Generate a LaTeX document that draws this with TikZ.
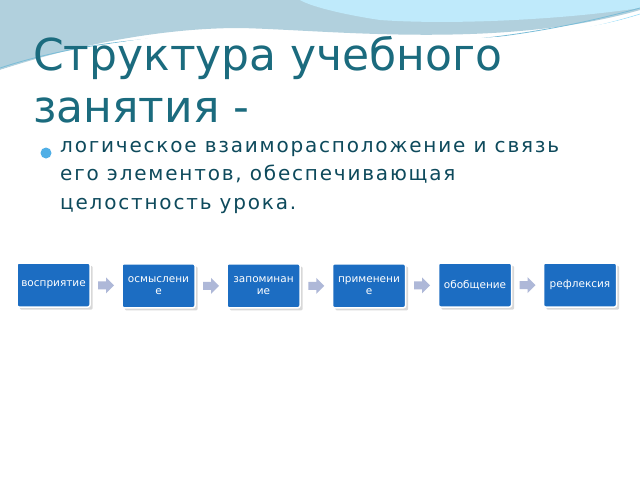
\documentclass[tikz,border=0pt]{standalone}
\usepackage{fontspec}
\setmainfont{DejaVu Sans}
\newfontfamily\bodyfont[LetterSpace=9]{DejaVu Sans}
\usetikzlibrary{shadows,calc}
\begin{document}
\begin{tikzpicture}[x=1pt,y=-1pt,
  box/.style={draw=white,line width=1.5pt,fill=boxblue,rounded corners=2pt,minimum width=73pt,minimum height=44pt,text=white,font=\fontsize{10.5}{12}\selectfont,align=center,inner sep=1pt,drop shadow={opacity=0.3}},
  arr/.style={fill=arrgrey,draw=none}]
\definecolor{boxblue}{HTML}{1C6DC2}
\definecolor{arrgrey}{HTML}{AEB8D8}
\definecolor{titlec}{HTML}{1B6B7E}
\definecolor{bodyc}{HTML}{0E4A5C}
\useasboundingbox (0,0) rectangle (640,480);
\fill[white] (0,0) rectangle (640,480);
% background waves
\fill[cyan!20!teal!35] (0,0) -- (640,0) -- (640,10) .. controls (500,50) and (330,30) .. (240,28) .. controls (150,28) and (60,50) .. (0,70) -- cycle;
\fill[cyan!25!white] (300,0) -- (640,0) -- (640,8) .. controls (560,20) and (450,25) .. (380,20) .. controls (340,14) and (310,6) .. (300,0) -- cycle;
\draw[cyan!50!teal!60,line width=0.8pt] (0,68) .. controls (100,35) and (220,30) .. (330,42) .. controls (450,50) and (560,30) .. (640,8);
\draw[cyan!40,line width=0.6pt] (0,72) .. controls (100,40) and (230,36) .. (340,46) .. controls (460,54) and (570,36) .. (640,14);
\fill[white] (0,70) .. controls (60,52) and (150,32) .. (240,32) .. controls (330,32) and (500,55) .. (640,15) -- (640,480) -- (0,480) -- cycle;
% title
\node[anchor=base west,text=titlec,font=\fontsize{44}{50}\selectfont,inner sep=0] (t1) at (33,70) {Структура учебного};
\node[anchor=base west,text=titlec,font=\fontsize{44}{50}\selectfont,inner sep=0] (t2) at (33,122) {занятия -};
% bullet
\fill[cyan!80!blue!70] (46,153) circle (5.5);
\node[anchor=north west,text=bodyc,font=\bodyfont\fontsize{20}{28.5}\selectfont,align=left,inner sep=0] (b) at (60,141)
 {логическое взаиморасположение и связь\\его элементов, обеспечивающая\\целостность урока.};
% boxes
\node[box] (n1) at (53.5,285) {восприятие};
\node[box,anchor=north] (n2) at (158.5,263) {осмыслени\\е};
\node[box,anchor=north] (n3) at (263.5,263) {запоминан\\ие};
\node[box,anchor=north] (n4) at (369,263) {применени\\е};
\node[box] (n5) at (475,285) {обобщение};
\node[box] (n6) at (580,285) {рефлексия};
\foreach \a/\b in {n1/n2,n2/n3,n3/n4,n4/n5,n5/n6}{
  \path (\a.east) -- (\b.west) coordinate[pos=0.5] (m);
  \fill[arrgrey] ($(m)+(-8,-4)$) -- ($(m)+(0,-4)$) -- ($(m)+(0,-8)$) -- ($(m)+(8,0)$) -- ($(m)+(0,8)$) -- ($(m)+(0,4)$) -- ($(m)+(-8,4)$) -- cycle;
}
\end{tikzpicture}
\end{document}
